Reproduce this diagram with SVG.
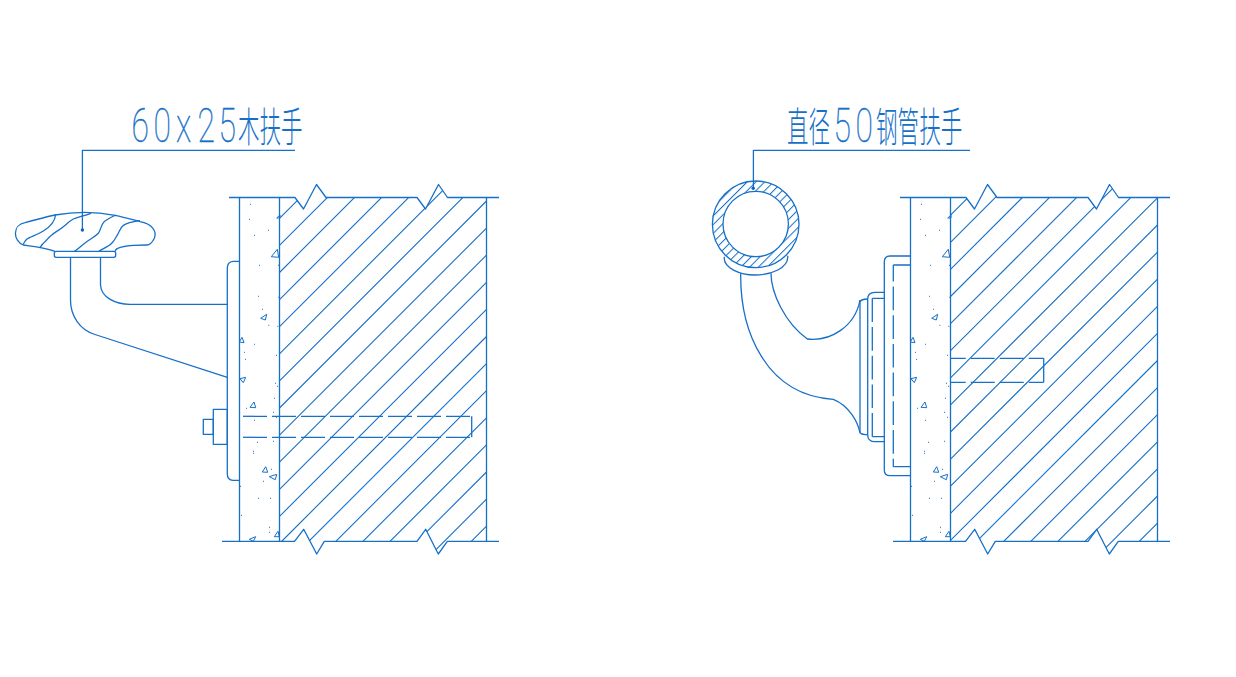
<svg xmlns="http://www.w3.org/2000/svg" width="1236" height="677" viewBox="0 0 1236 677">
<style>
.l{fill:none;stroke:#1670c8;stroke-width:1.3;stroke-linejoin:round}
.h{fill:none;stroke:#1670c8;stroke-width:1.1}
.t{fill:none;stroke:#1670c8;stroke-width:1}
.d{fill:none;stroke:#1670c8;stroke-width:1}
.dot{fill:#0f62b8}
.lb{fill:#1670c8}
.n{font-family:"Roboto","Liberation Sans",sans-serif;font-size:49px;font-weight:100;stroke:#1670c8;stroke-width:.45}
.c{font-family:"Noto Sans CJK SC",sans-serif;font-size:41px;font-weight:200}
</style>
<defs>
<clipPath id="wc"><polygon points="279.5,197.5 295,197.5 303.5,209 316.5,184.5 326,197.5 417,197.5 425.5,209 438.5,184.5 447.5,197.5 486.5,197.5 486.5,541.3 447.3,541.3 438.3,554 425.7,529.3 417,541.3 324.3,541.3 316.7,554 303.7,529.3 294.5,541.3 279.5,541.3"/></clipPath>
<path id="hatch" class="h" d="M279.5 218.3l207-207M279.5 245.4l207-207M279.5 272.5l207-207M279.5 299.6l207-207M279.5 326.7l207-207M279.5 353.8l207-207M279.5 380.9l207-207M279.5 408l207-207M279.5 435.1l207-207M279.5 462.2l207-207M279.5 489.3l207-207M279.5 516.4l207-207M279.5 543.5l207-207M279.5 570.6l207-207M279.5 597.7l207-207M279.5 624.8l207-207M279.5 651.9l207-207M279.5 679l207-207M279.5 706.1l207-207M279.5 733.2l207-207"/>
<g id="wall">
<path class="l" d="M229 197.5H295L303.5 209L316.5 184.5L326 197.5H417L425.5 209L438.5 184.5L447.5 197.5H499"/>
<path class="l" d="M222 541.3H294.5L303.7 529.3L316.7 554L324.3 541.3H417L425.7 529.3L438.3 554L447.3 541.3H499"/>
<path class="l" d="M239.5 197.5V541.3M279.5 197.5V541.3M486.5 197.5V541.3"/>
<path class="t" d="M276.7 218L280 215V218ZM271.3 256.7L277.3 249.3L278.7 257.3ZM260.7 318.3L266.7 314.3L265.3 320ZM239.3 342L242 337.3L244 342.7ZM240 378.7L245.7 377.3L243.3 382.7ZM250 407.3L254 402L255.7 407.7ZM262.3 472L265.7 466.7L267.7 472.3ZM269.3 476.7L276.7 474.3L275.3 479.7ZM274.3 536.7L278 531.3L279.3 536.7ZM249.3 539.3L255.7 536.7L253.3 541.3Z"/>
<path class="d" d="M250 204.3h1M249 219.3h1M254 235.3h1M268 230.3h1M259 265.3h1M278 265.3h1M258 296.3h1M278.3 297.3h1M262 309.3h1M268.3 325.3h1M277.3 326.3h1M254 344.3h1M244 352.3h1M245 359.3h1M276 355.3h1M275 383.3h1M277 386.3h1M274 398.3h1M246 408.3h1M273 412.3h1M276 417.3h1M254 420.3h1M257 442.3h1M273 441.3h1M253 451.3h1M253 453.3h1M271 469.3h1M263 481.3h1M240 486.3h1M258 498.3h1M270 498.3h1M241 515.3h1M269 527.3h1M269 532.3h1"/>
</g>
<pattern id="rh" width="6.2" height="6.2" patternUnits="userSpaceOnUse" patternTransform="rotate(45 755 224)"><rect width="6.2" height="6.2" fill="#fff"/><path d="M0 0V6.2" stroke="#1670c8" stroke-width="2"/></pattern>
</defs>
<rect width="1236" height="677" fill="#fff"/>
<g id="wall-left">
<use href="#wall"/>
<g clip-path="url(#wc)"><use href="#hatch"/></g>
</g>
<g id="wall-right">
<g transform="translate(671 0)"><use href="#wall"/><g clip-path="url(#wc)"><use href="#hatch" transform="translate(0 -3.1)"/></g></g>
</g>
<g id="wood-handrail">
<path class="l" d="M23.3 245C13 241 12 225 25 222.7C38 219 46 217 55 215C75 211.5 95 211.5 115 215.3C124 217 132 219.5 140 221.7C152 224 157 231 154.5 238C152 243 149 245 146.7 245C136 245 116 245.5 115 251.3M23.3 245C35 246.5 46 247.5 55 251.3"/>
<rect class="l" x="54.3" y="251.3" width="61.4" height="6" rx="2"/>
<path class="l" d="M55.7 214.3C55 221 52 226 43.3 231C37 235 29 237 26.7 239.3C25 241 24 243 22.7 245M91 213.3C84 216 78 217 73.3 219C68 222 66 225 63.3 226.7C58 231 55 232 51.7 235C48 238 47 240 45 241.7C43 243 41 246 40 247.7M116 215C111 217 108 219 105 221C101 224 101 230 98.3 233.3C95 237 90 239 86.7 241.7C82 245 78 249 74 251.7M140 220.7C133 222 130 222 125 224.3C121 226 120 230 118.3 233.3C116 237 115 240 111.7 243.3C108 247 102 249 98.3 251.7"/>
</g>
<g id="wood-bracket">
<path class="l" d="M70.5 257.3V300C70.5 316 80 330 95 334.5L227.3 377.3M100.5 257.3V285C101 297 115 304.3 130 304.3H227.3"/>
<path class="l" d="M239.5 261.3H233Q227.3 262 227.3 268V474Q227.3 480 233 480.3H239.5"/>
<rect class="l" x="213.3" y="409.3" width="14" height="35"/>
<rect class="l" x="203.3" y="419.3" width="10" height="15"/>
<path class="l" stroke-dasharray="24 5" d="M243 416.3H471.7"/>
<path class="l" stroke-dasharray="24 5" d="M243 437.3H471.7"/>
<path class="l" d="M471.7 416.3V437.3"/>
</g>
<g id="steel-handrail">
<path d="M755.7 181A43.3 43.3 0 1 1 755.7 267.6A43.3 43.3 0 1 1 755.7 181ZM755.7 191.3A32.7 32.7 0 1 0 755.7 256.7A32.7 32.7 0 1 0 755.7 191.3Z" fill="url(#rh)" fill-rule="evenodd" stroke="#1670c8" stroke-width="1.3"/>
<path class="l" d="M724.3 256.7C723 268 740 275 755 275C771 275 789 268 787.7 255.7"/>
</g>
<g id="steel-bracket">
<path class="l" d="M740.7 273.3C740 330 765 395 833.3 399.3C850 406 858 423 860 432.7M771 273.3C771 293 785 323 807.3 339C830 341.7 855 327 860 300"/>
<path class="l" d="M860 302Q861 299 867.7 299M860 432.7Q862 434.7 867.7 434.7M860 300V433"/>
<path class="l" d="M884.3 292.3H875Q867.7 292.3 867.7 299V434.7Q867.7 441.7 875 441.7H884.3"/>
<path class="l" d="M884.3 298.3H872.3M872.3 436.7H884.3"/>
<path class="l" stroke-dasharray="23.7 5" d="M872.3 298.3V436.7"/>
<path class="l" d="M910.5 256H890Q884.3 256 884.3 262V470Q884.3 475.7 890 475.7H910.5"/>
<path class="l" d="M910.5 265H893.3M893.3 466.7H910.5"/>
<path class="l" stroke-dasharray="23.7 5" stroke-dashoffset="7.2" d="M893.3 265V466.7"/>
<path class="l" stroke-dasharray="15.2 5 24 5 24 5 24 5" d="M950.5 358.3H1043.7"/>
<path class="l" stroke-dasharray="15.2 5 24 5 24 5 24 5" d="M950.5 382.3H1043.7"/>
<path class="l" d="M1043.7 358.3V382.3"/>
</g>
<g id="connectors">
<path class="l" d="M295 150.4H82.4V230"/>
<circle class="dot" cx="82.4" cy="230" r="1.7"/>
<path class="l" d="M970 150.4H753.4V188"/>
<circle class="dot" cx="753.2" cy="188.3" r="1.7"/>
</g>
<g id="label-wood">
<text class="lb" transform="scale(.65 1)" y="142"><tspan class="n" x="202.2 236 270.8 303.7 336">60x25</tspan><tspan class="c" x="366.2" textLength="99.2" lengthAdjust="spacingAndGlyphs">木扶手</tspan></text>
</g>
<g id="label-steel">
<text class="lb" transform="scale(.65 1)" y="142"><tspan class="c" x="1210.8" textLength="66" lengthAdjust="spacingAndGlyphs">直径</tspan><tspan class="n" x="1282.3 1316.2">50</tspan><tspan class="c" x="1347.7" textLength="133" lengthAdjust="spacingAndGlyphs">钢管扶手</tspan></text>
</g>
</svg>
